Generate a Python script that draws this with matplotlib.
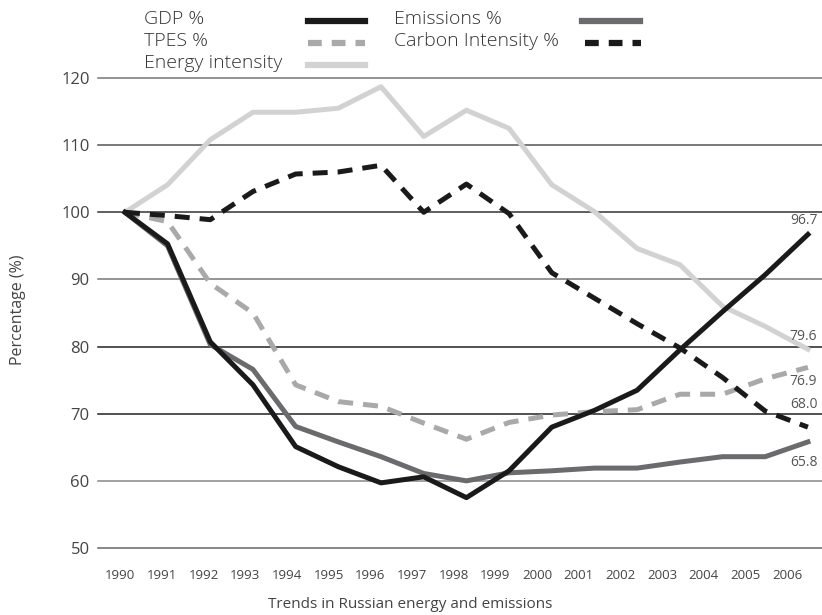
import matplotlib
import matplotlib.pyplot as plt
from matplotlib.lines import Line2D

matplotlib.use('Agg')
plt.rcParams['font.family'] = ['Open Sans', 'DejaVu Sans']

years = list(range(1990, 2007))
gdp = [100, 95.3, 80.7, 74.3, 65.1, 62.1, 59.7, 60.6, 57.5, 61.5,
       68.0, 70.5, 73.5, 79.5, 85.2, 90.7, 96.7]
emissions = [100, 95.0, 80.3, 76.6, 68.1, 65.8, 63.6, 61.1, 60.0, 61.2,
             61.5, 61.9, 61.9, 62.8, 63.6, 63.6, 65.8]
tpes = [100, 98.6, 89.4, 85.0, 74.3, 71.8, 71.1, 68.6, 66.2, 68.7,
        69.8, 70.3, 70.6, 72.9, 72.9, 75.2, 76.9]
carbon_intensity = [100, 99.5, 98.9, 103.1, 105.7, 106.0, 107.0, 100.0, 104.2, 99.8,
                    91.0, 87.2, 83.4, 79.8, 75.4, 70.4, 68.0]
energy_intensity = [100, 104.1, 110.8, 114.9, 114.9, 115.5, 118.7, 111.3, 115.2, 112.5,
                    104.1, 100.1, 94.6, 92.2, 86.0, 83.0, 79.6]
y_ticks = [50, 60, 70, 80, 90, 100, 110, 120]

grid_colors = {50: '#666666', 60: '#888888', 70: '#222222', 80: '#222222',
               90: '#777777', 100: '#333333', 110: '#555555', 120: '#777777'}

fig = plt.figure(figsize=(8.22, 6.15), dpi=100)
W, H = 822, 615
ax = fig.add_axes([98 / W, (H - 548) / H, 1 - 98 / W, (548 - 78) / H])
ax.set_xlim(1989.37, 2006.33)
ax.set_ylim(50, 120)

for v in y_ticks:
    ax.axhline(v, color=grid_colors[v], lw=1.1, clip_on=False, zorder=1)

lw = 3.6
ax.plot(years, energy_intensity, color='#d2d2d2', lw=lw, zorder=2)
ax.plot(years, tpes, color='#a9a9a9', lw=lw, dashes=(3, 2), zorder=3)
ax.plot(years, emissions, color='#6b6b6d', lw=lw, zorder=4)
ax.plot(years, carbon_intensity, color='#1a1a1a', lw=lw, dashes=(3, 2), zorder=5)
ax.plot(years, gdp, color='#1a1a1a', lw=lw, zorder=6)

# end labels (offsets in points), pulled in a little so they stay on the canvas
end_labels = [(gdp, -13, 10), (energy_intensity, -13, 9), (tpes, -13, -10),
              (carbon_intensity, -13, 16), (emissions, -13, -15)]
for series, dx, dy in end_labels:
    ax.annotate(f'{series[-1]:.1f}', xy=(years[-1], series[-1]), xytext=(dx, dy),
                textcoords='offset points', fontsize=10, color='#555555',
                va='center', ha='left', annotation_clip=False)

for s in ax.spines.values():
    s.set_visible(False)
ax.tick_params(length=0)
ax.set_yticks(y_ticks)
ax.set_yticklabels([str(v) for v in y_ticks], fontsize=12, color='#444444')
ax.tick_params(axis='y', pad=6)

# year labels sit slightly left of the data points in the original
tick_pos = [1989.89 + i * (2005.51 - 1989.89) / 16 for i in range(len(years))]
ax.set_xticks(tick_pos)
ax.set_xticklabels([str(y) for y in years], fontsize=9.5, color='#444444')
ax.tick_params(axis='x', pad=15)

fig.text(18 / W, 1 - 310 / H, 'Percentage (%)', rotation=90, fontsize=11.5,
         color='#444444', ha='center', va='center')
fig.text(410 / W, 1 - 604 / H, 'Trends in Russian energy and emissions',
         fontsize=11, color='#444444', ha='center', va='center')

# legend
legend_items = [
    ('GDP %', 144, 20, 308, 365, '#1a1a1a', None),
    ('TPES %', 144, 42, 308, 365, '#a9a9a9', (2.2, 1.6)),
    ('Energy intensity', 144, 64, 308, 365, '#d2d2d2', None),
    ('Emissions %', 394, 20, 582, 640, '#6b6b6d', None),
    ('Carbon Intensity %', 394, 42, 585, 641, '#1a1a1a', (2.2, 1.6)),
]
for label, tx, ty, x0, x1, col, dash in legend_items:
    fig.text(tx / W, 1 - (ty - 1) / H, label, fontsize=14, color='#333333',
             ha='left', va='center', fontweight='light')
    ln = Line2D([x0 / W, x1 / W], [1 - (ty + 1) / H, 1 - (ty + 1) / H],
                transform=fig.transFigure, color=col, lw=4.5)
    if dash:
        ln.set_dashes(dash)
    fig.add_artist(ln)

fig.savefig('out.png', dpi=100)
